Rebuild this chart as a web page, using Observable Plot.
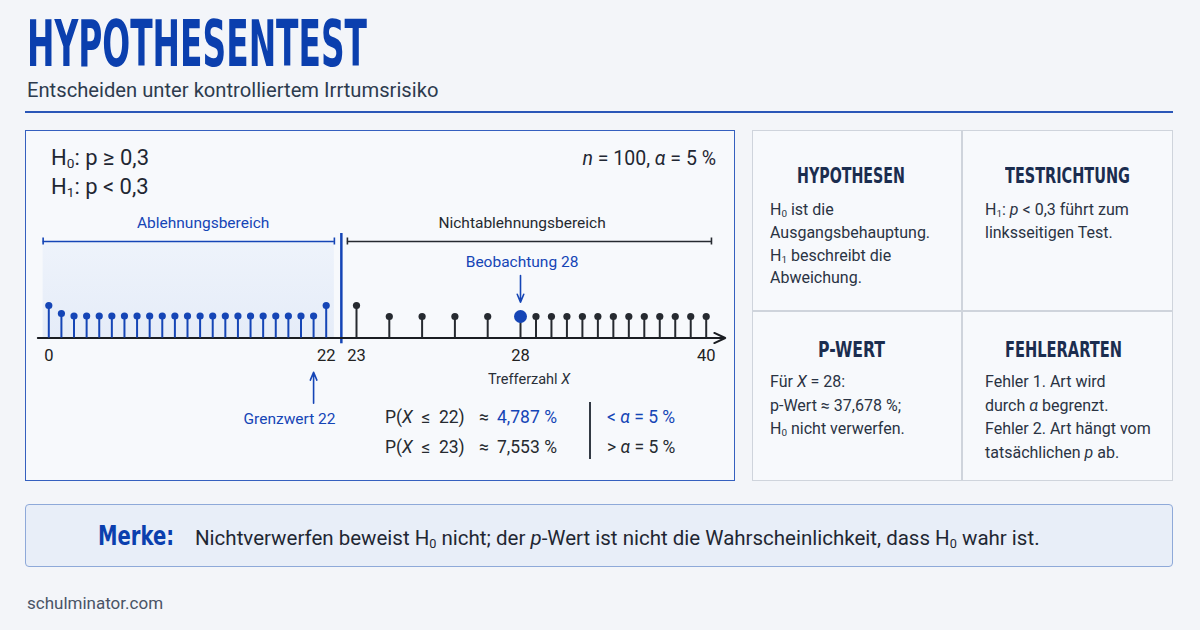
<!DOCTYPE html>
<html lang="de">
<head>
<meta charset="utf-8">
<script src="https://cdn.jsdelivr.net/npm/d3@7"></script>
<script src="https://cdn.jsdelivr.net/npm/@observablehq/plot@0.6"></script>
<style>
  html, body { margin: 0; padding: 0; }
  body { width: 1200px; height: 630px; background: #f3f5f9; position: relative; overflow: hidden;
         font-family: Roboto, "Noto Sans", sans-serif; color: #1f2b3d; }
  .box { position: absolute; box-sizing: border-box; }
  sub { font-size: 0.62em; vertical-align: -0.22em; line-height: 0; }
  i { font-style: italic; }
</style>
</head>
<body>
<div class="box" style="left:25px;top:111px;width:1148px;height:2px;background:#2a56b8;"></div>
<div class="box" style="left:25px;top:130px;width:710px;height:351px;border:1.5px solid #3560bf;background:#f7f9fc;"></div>
<div class="box" style="left:752px;top:130px;width:421px;height:351px;border:1.5px solid #cfd4dc;background:#f7f9fc;"></div>
<div class="box" style="left:961px;top:130px;width:1.5px;height:351px;background:#cfd4dc;"></div>
<div class="box" style="left:752px;top:310px;width:421px;height:1.5px;background:#cfd4dc;"></div>
<div class="box" style="left:25px;top:504px;width:1148px;height:63px;border:1.5px solid #8ea9d9;border-radius:4px;background:#e8eef8;"></div>
<div class="box" style="left:589px;top:402px;width:1.5px;height:57px;background:#333a44;"></div>
<div id="chart" class="box" style="left:25px;top:130px;width:710px;height:351px;"></div>

<script>
// ---------- data ----------
const xValues = [0, 1, 2, 3, 4, 5, 6, 7, 8, 9, 10, 11, 12, 13, 14, 15, 16, 17, 18, 19, 20,
                 21, 22, 23, 24, 25, 26, 27, 28, 29, 30, 31, 32, 33, 34, 35, 36, 37, 38, 39, 40];
// relative stem heights as drawn in the reference (stylised)
const stemHeight = [32.5, 24.5, 22, 22, 22, 22, 22, 22, 22, 22, 22, 22, 22, 22, 22, 22, 22, 22, 22, 22, 22,
                    22, 32.5, 32.5, 21.5, 21.5, 21.5, 21.5, 21.5, 21.5, 21.5, 21.5, 21.5, 21.5, 21.5, 21.5,
                    21.5, 21.5, 21.5, 21.5, 21.5];
const tickValues = [0, 22, 23, 28, 40];
const criticalValue = 22;
const observedValue = 28;
const regionLabels = ["Ablehnungsbereich", "Nichtablehnungsbereich"];
const regionFrom = [-0.45, 22.7];
const regionTo = [22.27, 40.34];
const probK = [22, 23];
const probValue = ["4,787 %", "7,553 %"];
const probCompare = ["<", ">"];

const BLUE = "#1545b6";
const DARK = "#262a30";

const stems = xValues.map((x, i) => ({x, h: stemHeight[i], reject: x <= criticalValue}));
const regions = regionLabels.map((label, i) => ({label, x1: regionFrom[i], x2: regionTo[i], reject: i === 0}));

// ---------- text helper (y = baseline) ----------
function put(html, o) {
  const d = document.createElement("div");
  d.innerHTML = html;
  const k = o.narrow ? 0.8465 : 0.842;
  const lh = o.lh || 1;
  Object.assign(d.style, {
    position: "absolute", left: "0px", top: (o.y - k * o.size - (lh - 1) * o.size / 2) + "px",
    fontSize: o.size + "px", lineHeight: String(lh), whiteSpace: "nowrap",
    fontFamily: o.narrow ? '"Liberation Sans Narrow", "DejaVu Sans Condensed", sans-serif' : 'Roboto, "Noto Sans", sans-serif',
    fontWeight: o.bold ? "700" : "400", color: o.color || "#1f2b3d", transformOrigin: "0 0"
  });
  document.body.appendChild(d);
  const w = d.getBoundingClientRect().width;
  const sx = o.w ? o.w / w : 1;
  const W = w * sx;
  const left = o.anchor === "middle" ? o.x - W / 2 : o.anchor === "end" ? o.x - W : o.x;
  d.style.left = left + "px";
  if (sx !== 1) d.style.transform = `scaleX(${sx})`;
  return d;
}

// header
put("HYPOTHESENTEST", {x: 27, y: 67, size: 64, narrow: true, bold: true, color: "#0b3fae", w: 340, lh: 0.8});
put("Entscheiden unter kontrolliertem Irrtumsrisiko", {x: 27, y: 97.5, size: 20.2, color: "#2d3b4e"});

// panel texts
put("H<sub>0</sub>: p ≥ 0,3", {x: 51, y: 166, size: 22, color: "#1f2733"});
put("H<sub>1</sub>: p &lt; 0,3", {x: 51, y: 195, size: 22, color: "#1f2733"});
put("<i>n</i> = 100, <i>α</i> = 5 %", {x: 716, y: 165, size: 19.5, anchor: "end", color: "#1f2733"});
put("Trefferzahl <i>X</i>", {x: 529, y: 385, size: 14.5, anchor: "middle", color: "#2a2f38"});

const rowY = [423.5, 454];
probK.forEach((k, i) => {
  const col = i === 0 ? BLUE : DARK;
  put(`P(<i>X</i>&nbsp; ≤ &nbsp;${k})`, {x: 385, y: rowY[i], size: 17.5, color: DARK});
  put("≈", {x: 484, y: rowY[i], size: 17.5, anchor: "middle", color: DARK});
  put(probValue[i], {x: 497, y: rowY[i], size: 17.5, color: col});
  put(`${probCompare[i] === "<" ? "&lt;" : "&gt;"} <i>α</i> = 5 %`, {x: 607, y: rowY[i], size: 17.5, color: col});
});

// cards
const cardHeads = ["HYPOTHESEN", "TESTRICHTUNG", "P-WERT", "FEHLERARTEN"];
const cardHeadW = [108, 125, 67, 117];
const cardCx = [851, 1067, 851, 1063];
const cardHeadY = [184, 184, 358, 358];
const cardX = [770, 985, 770, 985];
const cardLines = [
  ["H<sub>0</sub> ist die", "Ausgangsbehauptung.", "H<sub>1</sub> beschreibt die", "Abweichung."],
  ["H<sub>1</sub>: <i>p</i> &lt; 0,3 führt zum", "linksseitigen Test."],
  ["Für <i>X</i> = 28:", "p-Wert ≈ 37,678 %;", "H<sub>0</sub> nicht verwerfen."],
  ["Fehler 1. Art wird", "durch <i>α</i> begrenzt.", "Fehler 2. Art hängt vom", "tatsächlichen <i>p</i> ab."]
];
const cardLineY0 = [215.5, 215.5, 387.5, 387.5];
const cardLineGap = [22.8, 22.8, 23.7, 23.7];
cardHeads.forEach((h, i) => {
  put(h, {x: cardCx[i], y: cardHeadY[i], size: 21, narrow: true, bold: true, color: "#1b2d4f", anchor: "middle", w: cardHeadW[i]});
  cardLines[i].forEach((line, j) => put(line, {x: cardX[i], y: cardLineY0[i] + j * cardLineGap[i], size: 16, color: "#2a3343"}));
});

// Merke
put("Merke:", {x: 98, y: 545, size: 27, narrow: true, bold: true, color: "#0b3fae", w: 76});
put("Nichtverwerfen beweist H<sub>0</sub> nicht; der <i>p</i>-Wert ist nicht die Wahrscheinlichkeit, dass H<sub>0</sub> wahr ist.",
    {x: 195, y: 545, size: 20.5, color: "#1f2733"});

// footer
put("schulminator.com", {x: 27, y: 609, size: 17, color: "#4a5466"});

// ---------- chart ----------
const gradient = () => {
  const defs = d3.create("svg:defs");
  const g = defs.append("linearGradient").attr("id", "shadeGrad")
    .attr("x1", 0).attr("x2", 0).attr("y1", 0).attr("y2", 1);
  g.append("stop").attr("offset", "0%").attr("stop-color", "#eef3fb");
  g.append("stop").attr("offset", "100%").attr("stop-color", "#e5ecf8");
  return defs.node();
};

const chart = Plot.plot({
  width: 710,
  height: 351,
  marginTop: 0, marginRight: 0, marginLeft: 0, marginBottom: 143.5,
  style: {background: "transparent", overflow: "visible", fontFamily: "Roboto, sans-serif"},
  x: {type: "linear", domain: [0, 22, 23, 28, 40], range: [23.3, 300.7, 331, 495, 680.7]},
  y: {type: "linear", domain: [0, 100], range: [207.5, 107.5], axis: null},
  marks: [
    gradient,
    Plot.rect([regions[0]], {x1: "x1", x2: "x2", y1: 0, y2: 96.5, fill: "url(#shadeGrad)"}),
    // brackets
    Plot.ruleY(regions, {y: 96.5, x1: "x1", x2: "x2", stroke: d => d.reject ? BLUE : DARK, strokeWidth: 1.6}),
    Plot.ruleX(regions, {x: "x1", y1: 93, y2: 100, stroke: d => d.reject ? BLUE : DARK, strokeWidth: 1.6}),
    Plot.ruleX(regions, {x: "x2", y1: 93, y2: 100, stroke: d => d.reject ? BLUE : DARK, strokeWidth: 1.6}),
    Plot.text(regions, {x: d => (d.reject ? 12.24 : 28.1), y: 110, text: "label", lineAnchor: "bottom",
      fill: d => d.reject ? BLUE : DARK, fontSize: 15.5}),
    // boundary between rejection and non-rejection region
    Plot.ruleX([criticalValue + 0.5], {y1: -5.8, y2: 104.5, stroke: BLUE, strokeWidth: 2.5}),
    // baseline with arrow
    Plot.arrow([{x1: -0.87, x2: 41.23}], {x1: "x1", x2: "x2", y1: 0, y2: 0, stroke: "#1a1d22",
      strokeWidth: 2, headLength: 9, headAngle: 50}),
    // stems
    Plot.ruleX(stems, {x: "x", y1: 0, y2: "h", stroke: d => d.reject ? BLUE : DARK, strokeWidth: 2}),
    Plot.dot(stems, {x: "x", y: "h", r: 3.6, fill: d => d.reject ? BLUE : DARK, stroke: "none"}),
    Plot.dot(stems.filter(d => d.x === observedValue), {x: "x", y: "h", r: 6.5, fill: BLUE, stroke: "none"}),
    // observation annotation
    Plot.text([observedValue], {x: d => d + 0.1, y: 70.8, text: d => `Beobachtung ${d}`, lineAnchor: "bottom",
      fill: BLUE, fontSize: 15.5}),
    Plot.arrow([observedValue], {x1: d => d, x2: d => d, y1: 62.5, y2: 35.8, stroke: BLUE,
      strokeWidth: 1.6, headLength: 8, headAngle: 45}),
    // critical value annotation
    Plot.arrow([criticalValue], {x1: d => d - 1, x2: d => d - 1, y1: -65.2, y2: -34.2, stroke: BLUE,
      strokeWidth: 1.6, headLength: 8, headAngle: 45}),
    Plot.text([criticalValue], {x: 19.09, y: -85.8, text: d => `Grenzwert ${d}`, lineAnchor: "bottom",
      fill: BLUE, fontSize: 15.5}),
    // axis tick labels
    Plot.axisX(tickValues, {tickSize: 0, tickPadding: 11.5, fontSize: 16.5, label: null, fill: "#222"})
  ]
});
document.getElementById("chart").appendChild(chart);
</script>
</body>
</html>
